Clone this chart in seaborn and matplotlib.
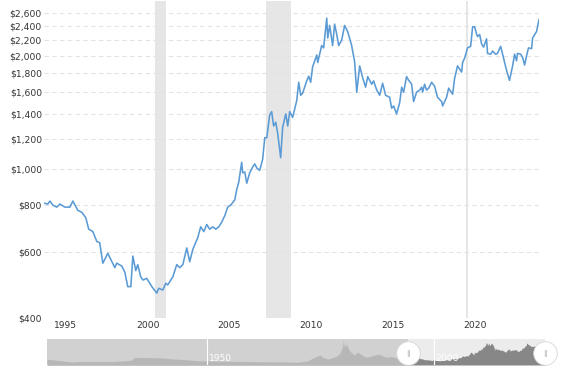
import numpy as np
import pandas as pd
import seaborn as sns
import matplotlib.pyplot as plt
from matplotlib.ticker import FixedLocator, NullLocator, FuncFormatter

# --- data (inflation adjusted gold price, log scale) ---
years = [1994.40, 1994.63, 1994.76, 1994.94, 1995.18, 1995.37, 1995.67, 1995.98, 1996.16, 1996.46,
         1996.71, 1996.95, 1997.13, 1997.38, 1997.62, 1997.80, 1997.99, 1998.17, 1998.29, 1998.54,
         1998.72, 1998.84, 1999.15, 1999.33, 1999.51, 1999.70, 1999.82, 2000.00, 2000.12, 2000.30,
         2000.43, 2000.67, 2000.98, 2001.28, 2001.40, 2001.65, 2001.83, 2001.95, 2002.26, 2002.50,
         2002.68, 2002.87, 2003.11, 2003.29, 2003.48, 2003.78, 2003.96, 2004.15, 2004.33, 2004.51,
         2004.70, 2004.88, 2005.06, 2005.24, 2005.43, 2005.61, 2005.79, 2006.04, 2006.16, 2006.28,
         2006.46, 2006.52, 2006.65, 2006.77, 2006.95, 2007.13, 2007.26, 2007.38, 2007.56, 2007.74,
         2007.87, 2007.99, 2008.17, 2008.29, 2008.41, 2008.54, 2008.66, 2008.84, 2008.96, 2009.15,
         2009.27, 2009.39, 2009.57, 2009.82, 2009.94, 2010.06, 2010.18, 2010.43, 2010.55, 2010.67,
         2010.79, 2011.04, 2011.10, 2011.34, 2011.46, 2011.65, 2011.71, 2011.83, 2012.01, 2012.13,
         2012.26, 2012.38, 2012.56, 2012.74, 2012.93, 2013.17, 2013.35, 2013.48, 2013.66, 2013.84,
         2014.02, 2014.15, 2014.39, 2014.51, 2014.70, 2014.88, 2015.06, 2015.24, 2015.49, 2015.61,
         2015.73, 2015.91, 2016.10, 2016.22, 2016.34, 2016.52, 2016.65, 2016.83, 2016.95, 2017.13,
         2017.32, 2017.44, 2017.50, 2017.62, 2017.74, 2017.87, 2018.05, 2018.23, 2018.41, 2018.66,
         2018.72, 2018.96, 2019.09, 2019.33, 2019.45, 2019.63, 2019.88, 2019.94, 2020.06, 2020.24,
         2020.43, 2020.55, 2020.67, 2020.79, 2020.85, 2020.98, 2021.10, 2021.22, 2021.40, 2021.46,
         2021.65, 2021.77, 2021.95, 2022.07, 2022.26, 2022.44, 2022.62, 2022.80, 2022.99, 2023.11,
         2023.23, 2023.29, 2023.48, 2023.60, 2023.72, 2023.84, 2023.96, 2024.15, 2024.21, 2024.39,
         2024.45, 2024.60]
price = [810, 805, 820, 800, 790, 805, 790, 790, 820, 775,
         765, 740, 690, 680, 640, 635, 560, 580, 595, 565,
         545, 560, 550, 530, 485, 485, 585, 535, 555, 515,
         505, 510, 485, 466, 480, 475, 495, 490, 515, 555,
         545, 555, 615, 565, 610, 655, 700, 680, 710, 690,
         700, 690, 700, 720, 750, 790, 800, 826, 880, 920,
         1040, 975, 980, 915, 975, 1010, 1030, 1005, 990, 1060,
         1210, 1210, 1390, 1420, 1300, 1330, 1240, 1070, 1290, 1400,
         1300, 1420, 1370, 1520, 1700, 1570, 1590, 1715, 1765, 1700,
         1870, 2010, 1920, 2130, 2100, 2520, 2230, 2410, 2130, 2430,
         2280, 2130, 2200, 2410, 2320, 2130, 1930, 1600, 1880, 1750,
         1650, 1760, 1680, 1715, 1620, 1570, 1690, 1570, 1550, 1450,
         1470, 1400, 1500, 1650, 1600, 1760, 1720, 1680, 1510, 1600,
         1620, 1650, 1600, 1680, 1620, 1640, 1700, 1660, 1550, 1510,
         1470, 1550, 1640, 1580, 1740, 1880, 1810, 1920, 1970, 2100,
         2120, 2390, 2390, 2290, 2250, 2280, 2150, 2110, 2220, 2030,
         2020, 2060, 2020, 2030, 2120, 1970, 1830, 1720, 1880, 2020,
         1940, 2030, 2020, 1980, 1890, 2000, 2100, 2090, 2230, 2300,
         2320, 2500]

recession_start = [2001.17, 2007.92, 2020.12]
recession_end = [2001.83, 2009.45, 2020.25]

y_ticks = [400, 600, 800, 1000, 1200, 1400, 1600, 1800, 2000, 2200, 2400, 2600]
x_ticks = [1995, 2000, 2005, 2010, 2015, 2020]

# navigator: longer history before the zoomed window
nav_years = [1914.6, 1917.0, 1920.0, 1922.0, 1929.0, 1933.0, 1934.1, 1940.0, 1942.0, 1946.0,
             1948.0, 1951.0, 1960.0, 1968.0, 1970.0, 1972.0, 1973.0, 1974.9, 1975.5, 1976.7,
             1977.5, 1978.5, 1979.3, 1979.9, 1980.05, 1980.3, 1980.7, 1981.5, 1982.5, 1983.2,
             1984.5, 1985.2, 1987.8, 1989.5, 1990.6, 1992.5, 1993.6]
nav_price = [640, 500, 330, 390, 380, 500, 840, 780, 680, 560,
             460, 430, 370, 330, 300, 430, 680, 1100, 850, 650,
             780, 950, 1300, 2000, 2750, 2000, 2300, 1500, 1100, 1400,
             1000, 850, 1200, 850, 920, 700, 860]
nav_ticks = [1950, 2000]

df = pd.DataFrame({'year': years, 'price': price})
nav_df = pd.DataFrame({'year': nav_years + years, 'price': nav_price + price})

sns.set_style("white")
plt.rcParams['font.family'] = ['DejaVu Sans']

W, H = 567, 381
fig = plt.figure(figsize=(W / 100, H / 100), dpi=100)
ax = fig.add_axes([44 / W, 1 - 318 / H, 495 / W, 317 / H])

# recession bands
for s, e in zip(recession_start, recession_end):
    ax.axvspan(s, e, color='#e6e6e6', lw=0, zorder=0)

sns.lineplot(data=df, x='year', y='price', ax=ax, color='#5b9bd5', linewidth=1.15, zorder=3)

ax.set_yscale('log')
ax.set_ylim(400, 2800)
ax.set_xlim(years[0], years[-1])
ax.yaxis.set_major_locator(FixedLocator(y_ticks))
ax.yaxis.set_minor_locator(NullLocator())
ax.yaxis.set_major_formatter(FuncFormatter(lambda v, p: f"${v:,.0f}"))
ax.xaxis.set_major_locator(FixedLocator(x_ticks))
ax.xaxis.set_major_formatter(FuncFormatter(lambda v, p: f"{v:.0f}"))
ax.grid(axis='y', color='#e3e3e3', linestyle=(0, (4, 3)), linewidth=0.8)
ax.grid(axis='x', visible=False)
ax.set_axisbelow(True)
ax.tick_params(axis='y', length=0, pad=1.5, labelsize=6.6, labelcolor='#333333')
ax.tick_params(axis='x', length=0, pad=2.5, labelsize=6.6, labelcolor='#333333')
for lab in ax.get_xticklabels():
    lab.set_ha('left')
ax.set_xlabel('')
ax.set_ylabel('')
for sp in ax.spines.values():
    sp.set_visible(False)

# --- navigator strip ---
nav = fig.add_axes([47 / W, 1 - 365 / H, 498 / W, 26 / H])
nav.set_facecolor('#ececec')
nav.fill_between(nav_df['year'], 0, nav_df['price'], color='#878787', lw=0, zorder=2)
nav.set_xlim(nav_years[0], years[-1])
nav.set_ylim(0, 2850)
nav.axvspan(nav_years[0], years[0], color='#c8c8c8', alpha=0.75, lw=0, zorder=3)
for t in nav_ticks:
    nav.axvline(t, color='white', lw=0.8, zorder=4)
    nav.text(t + 0.4, 700, str(t), color='white', fontsize=6.6, ha='left', va='center', zorder=5)
for t in [years[0], years[-1]]:
    nav.plot([t], [1300], marker='o', markersize=17, markerfacecolor='white',
             markeredgecolor='#d6d6d6', markeredgewidth=0.6, clip_on=False, zorder=6)
    nav.text(t, 1300, '||', color='#aaaaaa', fontsize=5, ha='center', va='center',
             zorder=7, clip_on=False)
nav.set_xticks([])
nav.set_yticks([])
for sp in nav.spines.values():
    sp.set_visible(False)

fig.savefig('out.png', dpi=100)
